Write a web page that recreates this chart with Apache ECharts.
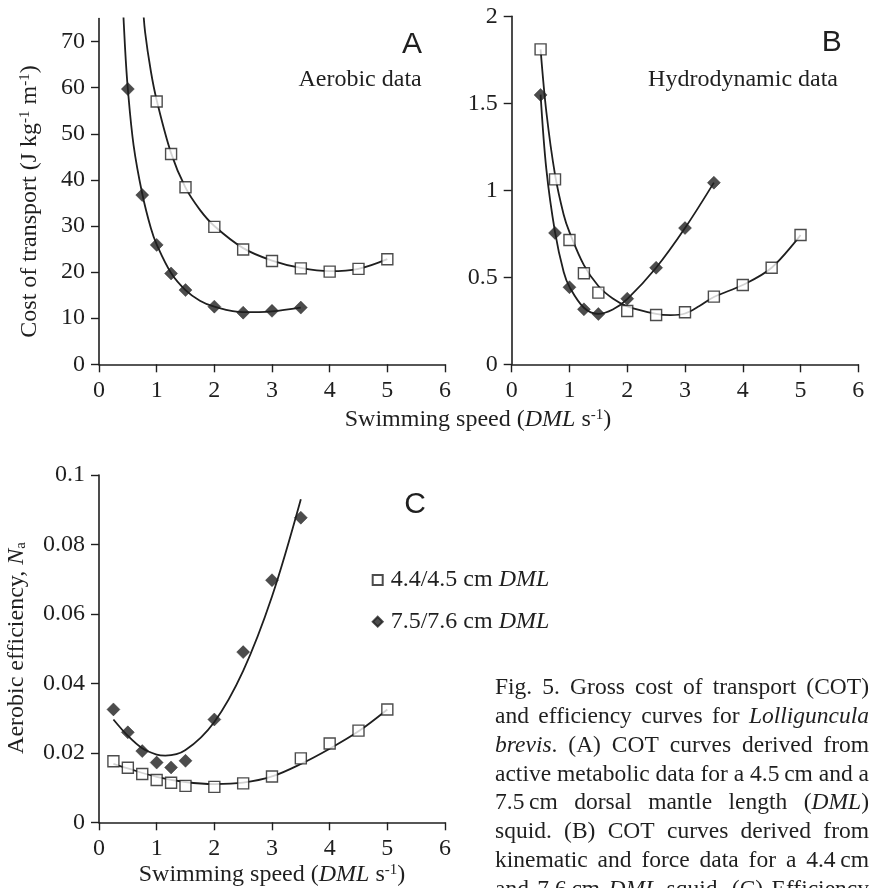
<!DOCTYPE html>
<html><head><meta charset="utf-8">
<script src="https://cdn.jsdelivr.net/npm/echarts@6/dist/echarts.min.js"></script>
<style>html,body{margin:0;padding:0;background:#fff}#c{width:879px;height:888px}</style>
</head><body><div id="c"></div>
<script>
// ---------- data ----------
const speedTicks = [0, 1, 2, 3, 4, 5, 6];
const cotTicks = [0, 10, 20, 30, 40, 50, 60, 70];
const legendNames = ['4.4/4.5 cm DML', '7.5/7.6 cm DML'];

// Panel A – aerobic COT (J kg-1 m-1)
const aSpeedSmall = [1, 1.25, 1.5, 2, 2.5, 3, 3.5, 4, 4.5, 5];
const aCotSmall   = [57.0, 45.6, 38.4, 29.8, 24.9, 22.4, 20.8, 20.1, 20.7, 22.8];
const aSpeedLarge = [0.5, 0.75, 1, 1.25, 1.5, 2, 2.5, 3, 3.5];
const aCotLarge   = [59.7, 36.7, 25.9, 19.7, 16.1, 12.5, 11.2, 11.6, 12.3];
const aFitSmall = [[0.76, 78], [0.8, 72], [0.9, 63.5], [1, 57.3], [1.25, 45.8], [1.5, 38.3], [1.75, 33.5], [2, 30], [2.5, 25.2], [3, 22.5], [3.5, 20.9], [4, 20.2], [4.5, 20.7], [5, 22.8]];
const aFitLarge = [[0.4, 82], [0.45, 69], [0.5, 59.7], [0.6, 47.5], [0.75, 37], [0.9, 29.5], [1, 26], [1.25, 19.8], [1.5, 16.1], [1.75, 13.8], [2, 12.5], [2.5, 11.3], [3, 11.5], [3.5, 12.3]];

// Panel B – hydrodynamic COT
const bSpeedSmall = [0.5, 0.75, 1, 1.25, 1.5, 2, 2.5, 3, 3.5, 4, 4.5, 5];
const bCotSmall   = [1.81, 1.063, 0.714, 0.523, 0.412, 0.306, 0.283, 0.299, 0.389, 0.456, 0.555, 0.743];
const bSpeedLarge = [0.5, 0.75, 1, 1.25, 1.5, 2, 2.5, 3, 3.5];
const bCotLarge   = [1.548, 0.755, 0.443, 0.316, 0.289, 0.377, 0.555, 0.783, 1.044];
const bFitSmall = [[0.5, 1.81], [0.6, 1.45], [0.75, 1.09], [0.9, 0.86], [1, 0.76], [1.25, 0.57], [1.5, 0.45], [1.75, 0.378], [2, 0.333], [2.5, 0.29], [2.75, 0.283], [3, 0.292], [3.25, 0.335], [3.5, 0.387], [4, 0.456], [4.5, 0.555], [5, 0.743]];
const bFitLarge = [[0.5, 1.55], [0.6, 1.12], [0.75, 0.76], [0.9, 0.53], [1, 0.445], [1.25, 0.325], [1.5, 0.29], [1.75, 0.315], [2, 0.375], [2.5, 0.555], [3, 0.783], [3.5, 1.044]];

// Panel C – aerobic efficiency Na
const cSpeedSmall = [0.25, 0.5, 0.75, 1, 1.25, 1.5, 2, 2.5, 3, 3.5, 4, 4.5, 5];
const cEffSmall   = [0.0176, 0.0157, 0.0139, 0.0122, 0.0114, 0.0105, 0.0102, 0.0112, 0.0132, 0.0184, 0.0227, 0.0264, 0.0325];
const cSpeedLarge = [0.25, 0.5, 0.75, 1, 1.25, 1.5, 2, 2.5, 3, 3.5];
const cEffLarge   = [0.0325, 0.0259, 0.0205, 0.0172, 0.0158, 0.0177, 0.0296, 0.0490, 0.0697, 0.0877];
const cFitSmall = [[0.25, 0.0168], [0.5, 0.0155], [1, 0.0131], [1.5, 0.0116], [2, 0.0110], [2.5, 0.0114], [3, 0.0132], [3.5, 0.0168], [4, 0.0212], [4.5, 0.0262], [5, 0.0325]];
const cFitLarge = [[0.25, 0.0296], [0.5, 0.0249], [0.75, 0.0213], [1, 0.0195], [1.15, 0.0192], [1.5, 0.0208], [2, 0.0289], [2.5, 0.0436], [3, 0.065], [3.5, 0.093]];

const captionLines = [
  'Fig. 5. Gross cost of transport (COT)',
  'and efficiency curves for {i|Lolliguncula}',
  '{i|brevis}. (A) COT curves derived from',
  'active metabolic data for a 4.5\u2009cm and a',
  '7.5\u2009cm dorsal mantle length ({i|DML})',
  'squid. (B) COT curves derived from',
  'kinematic and force data for a 4.4\u2009cm',
  'and 7.6\u2009cm {i|DML} squid. (C) Efficiency'
];

// ---------- styling ----------
const serif = 'Liberation Serif';
const sans = 'Liberation Sans';
const ink = '#1f1f1f';
const FS = 24;

function rich(size) {
  return {
    i: { fontStyle: 'italic', fontFamily: serif, fontSize: size, fill: ink, color: ink },
    sup: { fontFamily: serif, fontSize: Math.round(size * 0.62), lineHeight: 12, verticalAlign: 'top', fill: ink, color: ink },
    sub: { fontFamily: serif, fontSize: Math.round(size * 0.62), lineHeight: 12, verticalAlign: 'bottom', fill: ink, color: ink }
  };
}
function txt(x, y, text, o) {
  o = o || {};
  const size = o.size || FS;
  const al = o.align || 'center';
  return {
    type: 'text', x: x, y: y, rotation: o.rotation || 0, silent: true, z: 10,
    style: {
      text: text, x: 0, y: 0, fill: ink,
      fontSize: size, fontFamily: o.family || serif,
      align: al, verticalAlign: 'middle', textAlign: al, textVerticalAlign: 'middle',
      rich: rich(size)
    }
  };
}

function xAxisCfg(g) {
  return {
    type: 'value', gridIndex: g, min: 0, max: 6, interval: 1,
    axisLine: { show: true, onZero: false, lineStyle: { color: ink, width: 1.6 } },
    axisTick: { show: true, length: 8, lineStyle: { color: ink, width: 1.4 } },
    axisLabel: { fontFamily: serif, fontSize: FS, color: ink, margin: 14 },
    splitLine: { show: false }
  };
}
function yAxisCfg(g, min, max, interval, extra) {
  const a = {
    type: 'value', gridIndex: g, min: min, max: max, interval: interval,
    axisLine: { show: true, onZero: false, lineStyle: { color: ink, width: 1.6 } },
    axisTick: { show: true, length: 8, lineStyle: { color: ink, width: 1.4 } },
    axisLabel: { fontFamily: serif, fontSize: FS, color: ink, margin: 14 },
    splitLine: { show: false }
  };
  if (extra) extra(a);
  return a;
}

function fitSeries(name, g, data) {
  return { name: name, type: 'line', xAxisIndex: g, yAxisIndex: g, data: data, smooth: 0.35,
    symbol: 'none', showSymbol: false, clip: true, silent: true,
    lineStyle: { color: ink, width: 1.8 }, z: 2 };
}
function ptSeries(name, g, xs, ys, kind) {
  return { name: name, type: 'scatter', xAxisIndex: g, yAxisIndex: g,
    data: xs.map(function (x, i) { return [x, ys[i]]; }),
    symbol: kind === 'sq' ? 'rect' : 'diamond',
    symbolSize: kind === 'sq' ? 11 : 13,
    itemStyle: kind === 'sq' ? { color: '#fff', borderColor: ink, borderWidth: 1.4 }
                             : { color: ink, borderColor: ink, borderWidth: 0.5 },
    z: 3, silent: true };
}

// ---------- justified caption ----------
const ctx = document.createElement('canvas').getContext('2d');
function segs(word) {
  const out = []; const re = /\{i\|([^}]*)\}/g; let last = 0, m;
  while ((m = re.exec(word))) {
    if (m.index > last) out.push({ t: word.slice(last, m.index), it: false });
    out.push({ t: m[1], it: true }); last = re.lastIndex;
  }
  if (last < word.length) out.push({ t: word.slice(last), it: false });
  return out;
}
function wordWidth(word, size) {
  return segs(word).reduce(function (s, p) {
    ctx.font = (p.it ? 'italic ' : '') + size + 'px "' + serif + '"';
    return s + ctx.measureText(p.t).width;
  }, 0);
}
const capLeft = 495, capRight = 869, capTop = 688, capStep = 28.8, capSize = 23.5;
const captionEls = [];
captionLines.forEach(function (line, li) {
  const words = line.split(' ');
  const widths = words.map(function (w) { return wordWidth(w, capSize); });
  const total = widths.reduce(function (a, b) { return a + b; }, 0);
  const gap = words.length > 1 ? (capRight - capLeft - total) / (words.length - 1) : 0;
  let x = capLeft;
  words.forEach(function (w, wi) {
    captionEls.push(txt(x, capTop + li * capStep, w, { size: capSize, align: 'left' }));
    x += widths[wi] + gap;
  });
});

// ---------- chart ----------
const chart = echarts.init(document.getElementById('c'));
const option = {
  animation: false,
  backgroundColor: '#fff',
  grid: [
    { left: 99, top: 18.5, width: 346, height: 345.8, containLabel: false, outerBoundsMode: 'none' },
    { left: 511.7, top: 16.3, width: 346.6, height: 348, containLabel: false, outerBoundsMode: 'none' },
    { left: 99, top: 475, width: 346, height: 347.3, containLabel: false, outerBoundsMode: 'none' }
  ],
  xAxis: [xAxisCfg(0), xAxisCfg(1), xAxisCfg(2)],
  yAxis: [
    yAxisCfg(0, 0, 75, 10, function (a) {
      a.axisTick.customValues = cotTicks;
      a.axisLabel.customValues = cotTicks;
      a.axisLabel.formatter = function (v) { return v > 70 ? '' : String(v); };
    }),
    yAxisCfg(1, 0, 2, 0.5),
    yAxisCfg(2, 0, 0.1, 0.02)
  ],
  legend: {
    orient: 'vertical', left: 371.7, top: 568, itemWidth: 10, itemHeight: 10, itemGap: 17.7,
    selectedMode: false, padding: 0,
    data: legendNames,
    formatter: function (n) { return n.replace('DML', '{i|DML}'); },
    textStyle: { fontFamily: serif, fontSize: FS, color: ink, lineHeight: 24, padding: [0, 0, 0, 3],
      rich: { i: { fontStyle: 'italic', fontFamily: serif, fontSize: FS, color: ink, lineHeight: 24 } } }
  },
  series: [
    fitSeries('A fit small', 0, aFitSmall),
    fitSeries('A fit large', 0, aFitLarge),
    ptSeries('A small', 0, aSpeedSmall, aCotSmall, 'sq'),
    ptSeries('A large', 0, aSpeedLarge, aCotLarge, 'di'),
    fitSeries('B fit small', 1, bFitSmall),
    fitSeries('B fit large', 1, bFitLarge),
    ptSeries('B small', 1, bSpeedSmall, bCotSmall, 'sq'),
    ptSeries('B large', 1, bSpeedLarge, bCotLarge, 'di'),
    fitSeries('C fit small', 2, cFitSmall),
    fitSeries('C fit large', 2, cFitLarge),
    ptSeries(legendNames[0], 2, cSpeedSmall, cEffSmall, 'sq'),
    ptSeries(legendNames[1], 2, cSpeedLarge, cEffLarge, 'di')
  ],
  graphic: [
    txt(412, 45, 'A', { size: 30, family: sans }),
    txt(421.7, 80, 'Aerobic data', { align: 'right' }),
    txt(831.7, 43, 'B', { size: 30, family: sans }),
    txt(838, 80, 'Hydrodynamic data', { align: 'right' }),
    txt(415, 505, 'C', { size: 30, family: sans }),
    txt(30, 201.5, 'Cost of transport (J kg{sup|-1} m{sup|-1})', { rotation: Math.PI / 2 }),
    txt(478, 420, 'Swimming speed ({i|DML} s{sup|-1})'),
    txt(17, 648, 'Aerobic efficiency, {i|N}{sub|a}', { rotation: Math.PI / 2 }),
    txt(272, 875, 'Swimming speed ({i|DML} s{sup|-1})')
  ].concat(captionEls)
};
chart.setOption(option);
</script>
</body></html>
